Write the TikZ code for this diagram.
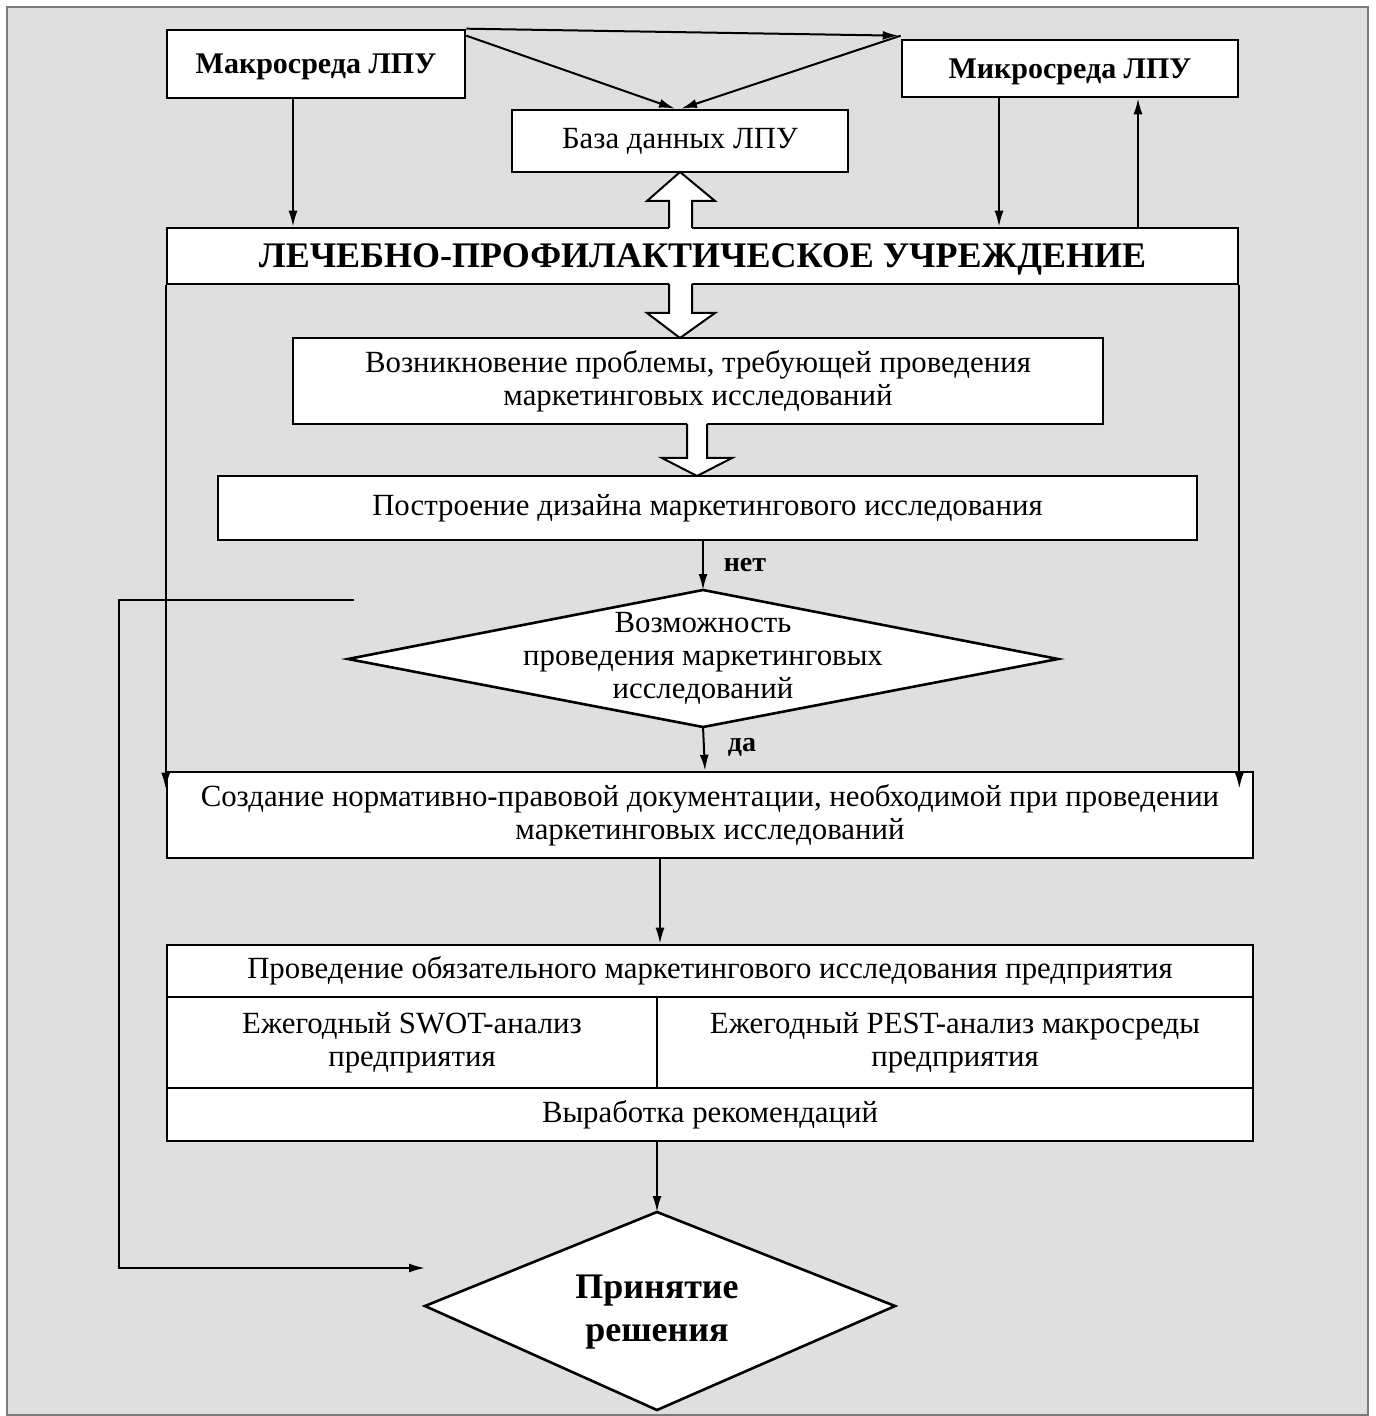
\documentclass[tikz,border=0pt]{standalone}
\usepackage{fontspec}
\setmainfont{Liberation Serif}
\usetikzlibrary{arrows.meta,calc}
\definecolor{bggray}{HTML}{DFDFDF}
\definecolor{framegray}{HTML}{7A7A7A}
\tikzset{
  box/.style={draw=black, line width=1.3pt, fill=white, inner sep=0pt, align=center,
    font=\fontsize{15.4}{16.5}\selectfont},
  hbox/.style={box, font=\bfseries\fontsize{15}{18}\selectfont, text height=10pt, text depth=0pt},
  arr/.style={-{Latex[length=8pt,width=4.5pt]}, line width=1pt},
  blockarrow/.style={draw=black, line width=1pt, line join=miter},
  lbl/.style={font=\bfseries\fontsize{14}{16}\selectfont, inner sep=0pt},
  dtext/.style={align=center, inner sep=0pt, font=\fontsize{15.4}{16.5}\selectfont},
}
\begin{document}
\begin{tikzpicture}[x=0.5pt,y=-0.5pt]
\useasboundingbox (0,0) rectangle (1375,1416);
\fill[bggray] (7,7) rectangle (1368,1415);
\draw[framegray, line width=1pt] (7,7) rectangle (1368,1415);

% boxes
\node[hbox, minimum width=149pt, minimum height=34pt] (makro) at (316,64) {Макросреда ЛПУ};
\node[hbox, minimum width=168pt, minimum height=28.5pt] (mikro) at (1070,68.5) {Микросреда ЛПУ};
\node[box, minimum width=168pt, minimum height=31pt] (baza) at (680,141) {База данных ЛПУ};
\node[box, minimum width=535.5pt, minimum height=28pt, font=\bfseries\fontsize{18}{20}\selectfont, text height=12pt, text depth=0pt] (lpu) at (702.5,256) {ЛЕЧЕБНО-ПРОФИЛАКТИЧЕСКОЕ УЧРЕЖДЕНИЕ};
\node[box, minimum width=405pt, minimum height=43pt] (vozn) at (698,381) {Возникновение проблемы, требующей проведения\\маркетинговых исследований};
\node[box, minimum width=489.5pt, minimum height=32pt] (postr) at (707.5,508) {Построение дизайна маркетингового исследования};

% decision diamond 1
\coordinate (d1t) at (703,590);
\coordinate (d1b) at (703,727);
\coordinate (d1l) at (348,659);
\coordinate (d1r) at (1058,659);
\draw[fill=white, line width=1.3pt, line join=miter] (d1t) -- (d1r) -- (d1b) -- (d1l) -- cycle;
\node[dtext] (d1text) at (703,658) {Возможность\\проведения маркетинговых\\исследований};

\node[box, minimum width=543pt, minimum height=43pt] (sozd) at (710,815) {Создание нормативно-правовой документации, необходимой при проведении\\маркетинговых исследований};

% research block
\node[box, minimum width=543pt, minimum height=26pt] (r1) at (710,971) {Проведение обязательного маркетингового исследования предприятия};
\node[box, minimum width=245pt, minimum height=45.5pt] (r2a) at (412,1042.5) {Ежегодный SWOT-анализ\\предприятия};
\node[box, minimum width=298pt, minimum height=45.5pt] (r2b) at (955,1042.5) {Ежегодный PEST-анализ макросреды\\предприятия};
\node[box, minimum width=543pt, minimum height=26.5pt] (r3) at (710,1114.5) {Выработка рекомендаций};

% decision diamond 2
\coordinate (d2t) at (657,1212);
\coordinate (d2b) at (657,1410);
\coordinate (d2l) at (425,1306);
\coordinate (d2r) at (895,1306);
\draw[fill=white, line width=1.3pt, line join=miter] (d2t) -- (d2r) -- (d2b) -- (d2l) -- cycle;
\node[dtext, font=\bfseries\fontsize{18}{21.5}\selectfont] (d2text) at (657,1312) {Принятие\\решения};

% block arrows
\fill[white] (669,229) -- (669,201) -- (647,201) -- (680,172) -- (715,201) -- (692,201) -- (692,229) -- cycle;
\draw[blockarrow] (669,228) -- (669,201) -- (647,201) -- (680,172) -- (715,201) -- (692,201) -- (692,228);
\fill[white] (669,283) -- (669,313) -- (647,313) -- (680,338) -- (715,313) -- (692,313) -- (692,283) -- cycle;
\draw[blockarrow] (669,284) -- (669,313) -- (647,313) -- (680,338) -- (715,313) -- (692,313) -- (692,284);
\fill[white] (687,423) -- (687,458) -- (662,458) -- (697,476) -- (732,458) -- (707,458) -- (707,423) -- cycle;
\draw[blockarrow] (687,424) -- (687,458) -- (662,458) -- (697,476) -- (732,458) -- (707,458) -- (707,424);

% connectors top
\coordinate (mkA) at ($(makro.south)+(-23,0)$);
\coordinate (miA) at ($(mikro.south)+(-71,0)$);
\coordinate (miB) at ($(mikro.south)+(68,0)$);
\draw[arr] (makro.north east) -- ($(mikro.north west)+(-2,-3)$);
\draw[arr] ($(makro.north east)+(0,7)$) -- ($(baza.north)+(-5,0)$);
\draw[arr] ($(mikro.north west)+(0,-3)$) -- ($(baza.north)+(1,0)$);
\draw[arr] (mkA) -- (mkA |- lpu.north);
\draw[arr] (miA) -- (miA |- lpu.north);
\draw[arr] (miB |- lpu.north) -- (miB);

% middle connectors
\draw[arr] (postr.south -| d1t) -- (d1t);
\node[lbl] (net) at (745,565) {нет};
\coordinate (sozdIn) at ($(d1b |- sozd.north)+(2,0)$);
\draw[arr] (d1b) -- (sozdIn);
\node[lbl] (da) at (742,747) {да};
\coordinate (lftEnd) at ($(lpu.south west |- sozd.north)+(0,18)$);
\coordinate (rgtEnd) at ($(lpu.south east |- sozd.north)+(0,18)$);
\draw[arr] (lpu.south west) -- (lftEnd);
\draw[arr] (lpu.south east) -- (rgtEnd);
\coordinate (szA) at ($(sozd.south)+(-50,0)$);
\draw[arr] (szA) -- (szA |- r1.north);
\draw[arr] (r3.south -| d2t) -- (d2t);

% loop to decision
\coordinate (lstart) at (354,600);
\coordinate (lend) at (425,1268);
\draw[arr] (lstart) -- (119,600) |- (lend);
\end{tikzpicture}
\end{document}
